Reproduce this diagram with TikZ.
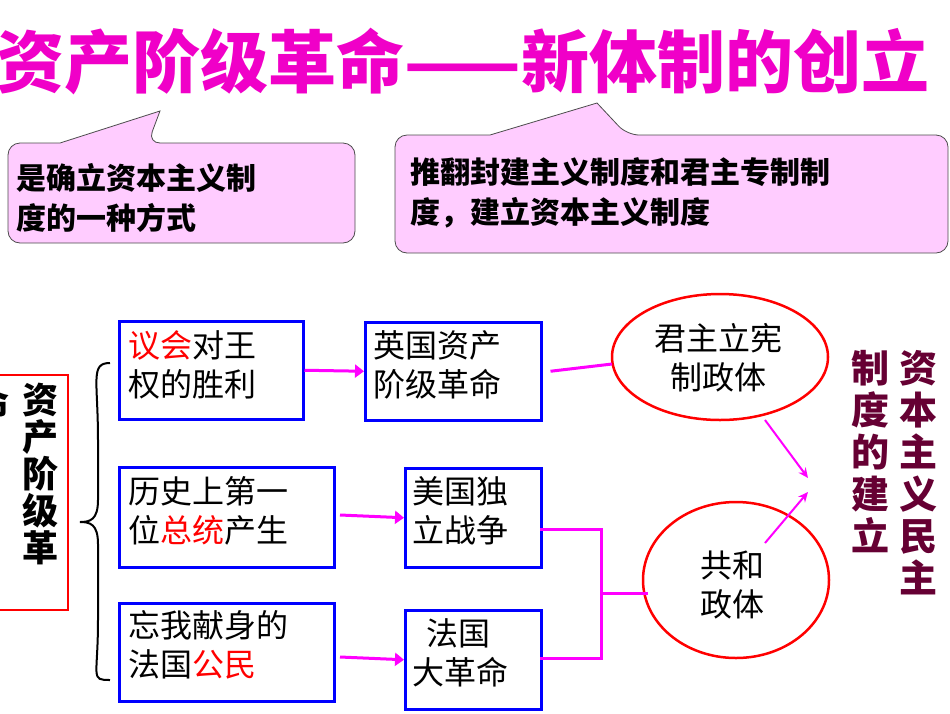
\documentclass[tikz,border=0pt]{standalone}
\usepackage{fontspec}
\setmainfont{Liberation Sans}
\newfontfamily\cjk{Noto Sans CJK SC}
\newcommand{\cjkb}{\cjk\bfseries}
\usetikzlibrary{calc, positioning, arrows.meta}
\definecolor{mg}{RGB}{255,0,255}
\definecolor{pk}{RGB}{255,204,255}
\definecolor{mr}{RGB}{102,0,51}
\definecolor{ttl}{RGB}{240,0,200}

\begin{document}
\begin{tikzpicture}[x=1pt, y=-1pt,
                  every node/.style={inner sep=0pt},
                  bx/.style={draw=blue, line width=2.5pt, rectangle},
                  tx/.style={font=\cjk\fontsize{32}{39}\selectfont, align=left, anchor=north west},
                  cl/.style={draw=black!70, fill=pk, line width=0.8pt, rounded corners=12pt},
                  el/.style={draw=red, line width=2.5pt},
                  ln/.style={mg, line width=3pt},
                  ar/.style={mg, line width=3pt, -{Triangle[length=9pt, width=13pt]}},
                  ta/.style={mg, line width=2pt, -{Stealth[length=10pt, width=9pt]}},
                  vt/.style={font=\cjkb\fontsize{38}{42}\selectfont, mr, align=center, anchor=north}]

    \useasboundingbox (0,0) rectangle (950,713); % same size as the slide picture

    % title
    \node (title) at (463,62) {\cjkb\fontsize{68}{72}\selectfont\textcolor{ttl}{资产阶级革命——新体制的创立}};

    % callouts
    \draw [cl] (60,143) -- (8,143) -- (8,243) -- (355,243) -- (355,143) -- (148,143) [sharp corners] -- (160,111) -- cycle;
    \draw [cl] (490,135) -- (395,135) -- (395,253) -- (948,253) -- (948,135) -- (627,135) [sharp corners] -- (597,103) -- cycle;
    \node (cA) [font=\cjkb\fontsize{30}{40}\selectfont, align=left, anchor=west] at (16,198) {是确立资本主义制\\度的一种方式};
    \node (cB) [font=\cjkb\fontsize{30}{40}\selectfont, align=left, anchor=west] at (410,193) {推翻封建主义制度和君主专制制\\度，建立资本主义制度};

    % left column
    \draw [red, line width=2.5pt] (-2,375) rectangle (68,610);
    \node (rev) [font=\cjkb\fontsize{36}{37}\selectfont, align=center, anchor=north] at (40,383) {资\\产\\阶\\级\\革};
    \node (cut) [font=\cjkb\fontsize{36}{37}\selectfont, anchor=center] at (-8,404) {命};
    \draw [line width=2pt] (110,363) .. controls (90,363) and (98,380) .. (98,440)
                           -- (98,500) .. controls (98,520) and (90,522) .. (80,522)
                           .. controls (90,522) and (98,524) .. (98,544)
                           -- (98,620) .. controls (98,678) and (90,680) .. (110,680);

    % event boxes
    \node (e1) [bx, minimum width=184, minimum height=98, anchor=north west] at (118,320) {};
    \node (e1t) [tx] at (128,330) {\textcolor{red}{议会}对王\\权的胜利};
    \node (e2) [bx, minimum width=215, minimum height=100, anchor=north west] at (118,466) {};
    \node (e2t) [tx] at (128,476) {历史上第一\\位\textcolor{red}{总统}产生};
    \node (e3) [bx, minimum width=215, minimum height=98, anchor=north west] at (118,602) {};
    \node (e3t) [tx] at (128,610) {忘我献身的\\法国\textcolor{red}{公民}};

    % revolutions
    \node (r1) [bx, minimum width=176, minimum height=98, anchor=north west] at (364,321) {};
    \node (r1t) [tx] at (373,330) {英国资产\\阶级革命};
    \node (r2) [bx, minimum width=136, minimum height=99, anchor=north west] at (404,467) {};
    \node (r2t) [tx] at (412,476) {美国独\\立战争};
    \node (r3) [bx, minimum width=136, minimum height=99, anchor=north west] at (404,609) {};
    \node (r3t) [tx] at (412,618) {\ \ 法国\\大革命};

    % forms of government
    \draw [el] (720,357) ellipse [x radius=108, y radius=63];
    \coordinate (g1) at (612,364);
    \node (g1t) [font=\cjk\fontsize{32}{39}\selectfont, align=center] at (718,358) {君主立宪\\制政体};
    \draw [el] (736,580) ellipse [x radius=93, y radius=78];
    \coordinate (g2) at (648,593);
    \node (g2t) [font=\cjk\fontsize{32}{39}\selectfont, align=center] at (732,585) {共和\\政体};

    % result
    \node (res1) [vt] at (870,350) {制\\度\\的\\建\\立};
    \node (res2) [vt] at (918,350) {资\\本\\主\\义\\民\\主};

    % connectors
    \draw [ar] (e1.east) -- (r1.west);
    \draw [ar] (340,515) -- (r2.west);
    \draw [ar] (340,657) -- (r3.west);
    \draw [ln] (r1.east) ++(8,0) -- (g1);
    \coordinate (j) at (601,593);
    \draw [ln] (540,529) -| (j) |- (540,658);
    \draw [ln] (j) -- (g2);
    \draw [ta] (765,420) -- (808,478);
    \draw [ta] (765,543) -- (808,492);

\end{tikzpicture}
\end{document}
